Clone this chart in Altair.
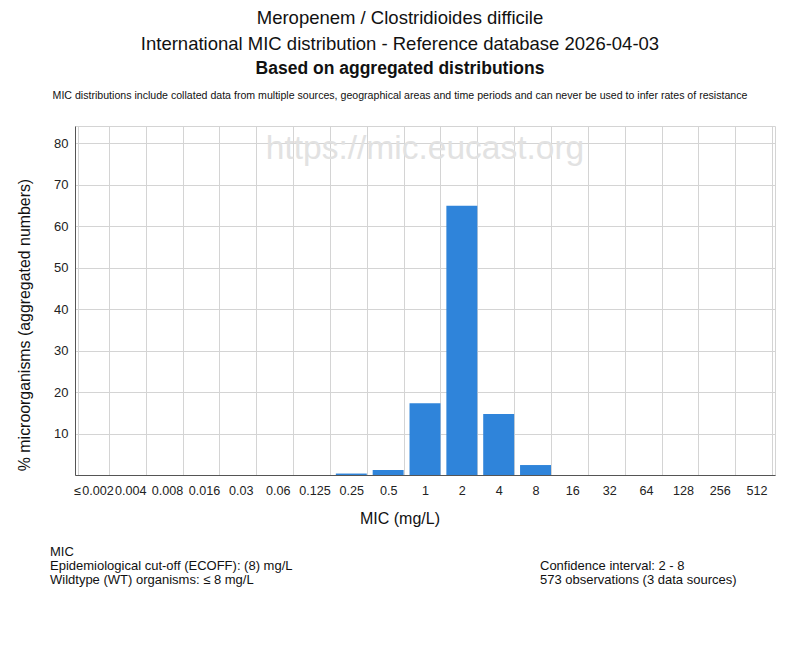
import altair as alt
import pandas as pd

mic_labels = ["≤\u200a0.002", "0.004", "0.008", "0.016", "0.03", "0.06", "0.125", "0.25",
              "0.5", "1", "2", "4", "8", "16", "32", "64", "128", "256", "512"]
percent = [0, 0, 0, 0, 0, 0, 0, 0.35, 1.2, 17.3, 64.9, 14.7, 2.4, 0, 0, 0, 0, 0, 0]

title_lines = ["Meropenem / Clostridioides difficile",
               "International MIC distribution - Reference database 2026-04-03",
               "Based on aggregated distributions"]
disclaimer = ("MIC distributions include collated data from multiple sources, geographical areas "
              "and time periods and can never be used to infer rates of resistance")
watermark = "https://mic.eucast.org"
y_title = "% microorganisms (aggregated numbers)"
x_title = "MIC (mg/L)"
footer_left = ["MIC", "Epidemiological cut-off (ECOFF): (8) mg/L", "Wildtype (WT) organisms: ≤ 8 mg/L"]
footer_right = ["Confidence interval: 2 - 8", "573 observations (3 data sources)"]

FONT = "Liberation Sans"
df = pd.DataFrame({"mic": mic_labels, "pct": percent})

bars = alt.Chart(df).mark_bar(color="#2f84da").encode(
    x=alt.X("mic:N", sort=mic_labels, title=None,
            scale=alt.Scale(paddingInner=0.16, paddingOuter=0.08),
            axis=alt.Axis(tickBand="extent", grid=True, gridColor="#d4d4d4", ticks=False,
                          labelAngle=0, labelPadding=9, labelFontSize=12.6, labelColor="#222",
                          labelFont=FONT, domainColor="#555", labelOverlap=False)),
    y=alt.Y("pct:Q", title=None, scale=alt.Scale(domain=[0, 84.1], nice=False),
            axis=alt.Axis(values=[0, 10, 20, 30, 40, 50, 60, 70, 80],
                          labelExpr="datum.value == 0 ? '' : datum.label",
                          grid=True, gridColor="#d4d4d4", ticks=False, labelPadding=7,
                          labelFontSize=13, labelColor="#222", labelFont=FONT,
                          domainColor="#555")),
)

one = alt.InlineData(values=[{}])

def txt(s, x, y, size, weight="normal", align="center", color="#111", angle=0):
    kw = dict(fontSize=size, fontWeight=weight, align=align, baseline="middle",
              color=color, font=FONT)
    if angle:
        kw["angle"] = angle
    return alt.Chart(one).mark_text(**kw).encode(
        x=alt.value(x), y=alt.value(y), text=alt.value(s))

layers = [
    txt(watermark, 350, 23, 33.5, color="#e2e2e2"),
    bars,
    txt(title_lines[0], 325, -108, 18.5),
    txt(title_lines[1], 325, -82, 18.5),
    txt(title_lines[2], 325, -57, 17.5, weight="bold"),
    txt(disclaimer, 325, -30, 10.6),
    txt(y_title, -50, 199, 15.9, angle=270),
    txt(x_title, 325, 393, 16),
]
for i, s in enumerate(footer_left):
    layers.append(txt(s, -25, 426 + 14 * i, 13, align="left"))
for i, s in enumerate(footer_right):
    layers.append(txt(s, 465, 440 + 14 * i, 13, align="left"))

chart = alt.layer(*layers).properties(
    width=700, height=349,
    autosize=alt.AutoSizeParams(type="none"),
    padding={"left": 67, "top": 118, "right": 17, "bottom": 160},
).configure_view(stroke="#d4d4d4")

chart.save("out.html", embed_options={"renderer": "svg", "actions": False})
